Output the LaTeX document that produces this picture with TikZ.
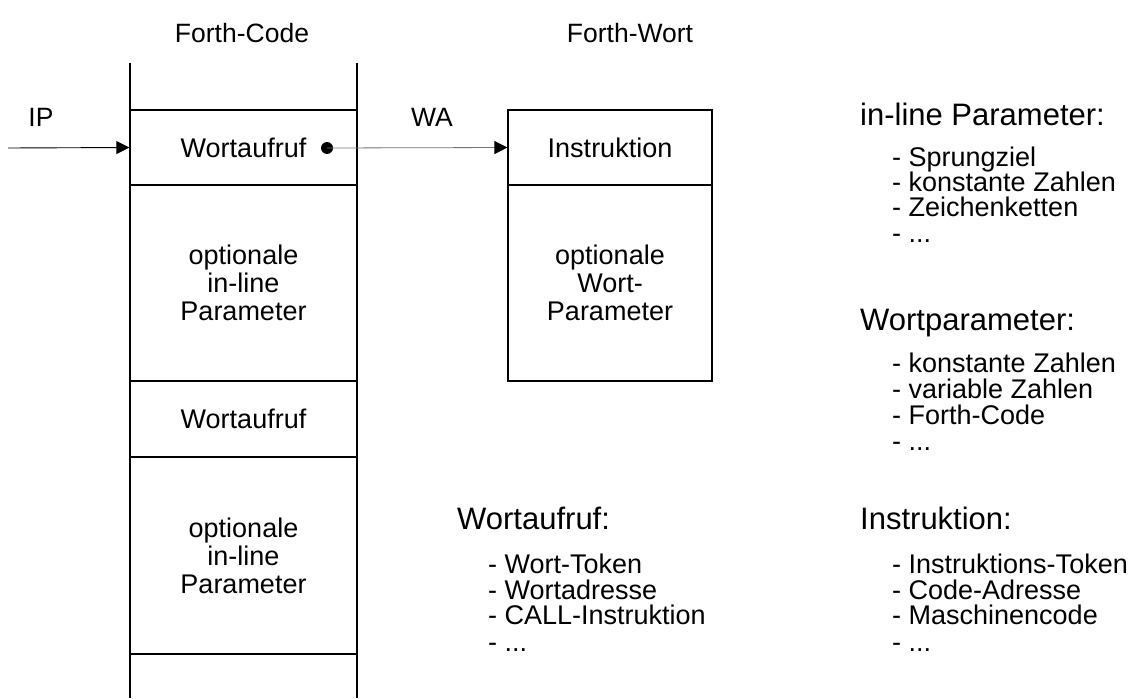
\documentclass[tikz,border=0pt]{standalone}
\usepackage{fontspec}
\setmainfont{Liberation Sans}
\usetikzlibrary{arrows.meta}
\tikzset{
  cell/.style={draw=black, line width=1.2pt, minimum width=227pt, inner sep=0pt, align=center, font=\fontsize{27}{28}\selectfont},
  wcell/.style={draw=black, line width=1.2pt, minimum width=204pt, inner sep=0pt, align=center, font=\fontsize{27}{28}\selectfont},
  title/.style={inner sep=0pt, font=\fontsize{26.5}{28}\selectfont},
  head/.style={inner sep=0pt, anchor=west, font=\fontsize{31}{34}\selectfont, text height=22pt, text depth=6.5pt},
  item/.style={inner sep=0pt, anchor=west, font=\fontsize{27}{27}\selectfont, text height=19.4pt, text depth=5.7pt},
  arr/.style={-{Triangle[length=13pt,width=13pt]}, line width=0.9pt},
}
\begin{document}
\begin{tikzpicture}[x=1pt,y=-1pt]
\useasboundingbox (0,0) rectangle (1139,698);
% column walls
\draw[line width=1.2pt] (130,63) -- (130,698);
\draw[line width=1.2pt] (357,63) -- (357,698);
% Forth-Code cells
\node[cell, minimum height=75pt] (c1) at (243.5,147.5) {};
\node[cell, minimum height=196pt] (c2) at (243.5,283) {optionale\\in-line\\Parameter};
\node[cell, minimum height=76pt] (c3) at (243.5,419) {Wortaufruf};
\node[cell, minimum height=197pt] (c4) at (243.5,555.5) {optionale\\in-line\\Parameter};
\node[title, font=\fontsize{27}{28}\selectfont] (t1) at (243.5,148) {Wortaufruf};
\node[circle, fill=black, inner sep=0pt, minimum size=12pt] (dot) at (327,148) {};
% Forth-Wort cells
\node[wcell, minimum height=75pt] (w1) at (610,147.5) {Instruktion};
\node[wcell, minimum height=196pt] (w2) at (610,283) {optionale\\Wort-\\Parameter};
% titles
\node[title] (fc) at (242,33) {Forth-Code};
\node[title] (fw) at (630,33) {Forth-Wort};
\node[title] (ip) at (41,117) {IP};
\node[title] (wa) at (432,117) {WA};
% arrows
\coordinate (ipstart) at (8,148);
\draw[arr] (ipstart) -- (c1.west);
\draw[line width=0.8pt, draw=black!55, -{Triangle[length=13pt,width=13pt,color=black]}] (dot.center) -- (w1.west);
% right texts
\node[head] (h1) at (860,118) {in-line Parameter:};
\node[item] (h1a) at (892,160) {- Sprungziel};
\node[item] (h1b) at (892,185) {- konstante Zahlen};
\node[item] (h1c) at (892,210) {- Zeichenketten};
\node[item] (h1d) at (892,236) {- ...};
\node[head] (h2) at (860,323) {Wortparameter:};
\node[item] (h2a) at (892,366) {- konstante Zahlen};
\node[item] (h2b) at (892,392) {- variable Zahlen};
\node[item] (h2c) at (892,418) {- Forth-Code};
\node[item] (h2d) at (892,444) {- ...};
\node[head] (h3) at (860,522) {Instruktion:};
\node[item] (h3a) at (892,567) {- Instruktions-Token};
\node[item] (h3b) at (892,593) {- Code-Adresse};
\node[item] (h3c) at (892,618) {- Maschinencode};
\node[item] (h3d) at (892,645) {- ...};
\node[head] (h4) at (457,522) {Wortaufruf:};
\node[item] (h4a) at (488,567) {- Wort-Token};
\node[item] (h4b) at (488,593) {- Wortadresse};
\node[item] (h4c) at (488,618) {- CALL-Instruktion};
\node[item] (h4d) at (488,645) {- ...};
\end{tikzpicture}
\end{document}
